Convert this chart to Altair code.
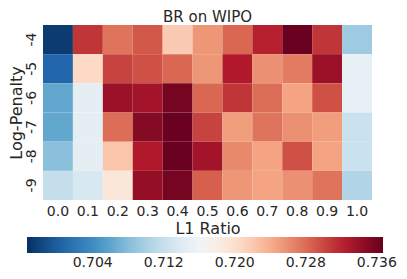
import altair as alt
import pandas as pd

title_text = "BR on WIPO"
l1_ratios = ["0.0", "0.1", "0.2", "0.3", "0.4", "0.5", "0.6", "0.7", "0.8", "0.9", "1.0"]
penalties = ["-4", "-5", "-6", "-7", "-8", "-9"]

row_m4 = [0.6974, 0.7311, 0.7275, 0.7291, 0.7219, 0.7255, 0.7283, 0.7323, 0.7365, 0.7311, 0.7094]
row_m5 = [0.7006, 0.7207, 0.7303, 0.7295, 0.7283, 0.7255, 0.7327, 0.7259, 0.7271, 0.7339, 0.7150]
row_m6 = [0.7062, 0.7146, 0.7339, 0.7335, 0.7359, 0.7283, 0.7311, 0.7279, 0.7247, 0.7295, 0.7150]
row_m7 = [0.7062, 0.7146, 0.7279, 0.7351, 0.7365, 0.7303, 0.7251, 0.7275, 0.7259, 0.7251, 0.7122]
row_m8 = [0.7082, 0.7146, 0.7223, 0.7327, 0.7365, 0.7335, 0.7263, 0.7247, 0.7295, 0.7247, 0.7122]
row_m9 = [0.7118, 0.7134, 0.7191, 0.7343, 0.7359, 0.7287, 0.7255, 0.7247, 0.7259, 0.7275, 0.7106]

rows = [row_m4, row_m5, row_m6, row_m7, row_m8, row_m9]
colorbar_ticks = [0.704, 0.712, 0.720, 0.728, 0.736]
vmin, vmax = 0.6966, 0.7367

# RdBu_r (ColorBrewer 11 stops, blue -> red)
rdbu_r = ["#053061", "#2166ac", "#4393c3", "#92c5de", "#d1e5f0", "#f7f7f7",
          "#fddbc7", "#f4a582", "#d6604d", "#b2182b", "#67001f"]
stops = [vmin + (vmax - vmin) * i / 10 for i in range(11)]

records = []
for p, vals in zip(penalties, rows):
    for r, v in zip(l1_ratios, vals):
        records.append({"penalty": p, "ratio": r, "value": v})
df = pd.DataFrame(records)

TXT = "#262626"
W, H = 329, 175

heat = alt.Chart(df).mark_rect().encode(
    x=alt.X("ratio:O", sort=l1_ratios, title="L1 Ratio",
            scale=alt.Scale(paddingInner=0, paddingOuter=0),
            axis=alt.Axis(labelAngle=0, labelFontSize=14, titleFontSize=16,
                          labelColor=TXT, titleColor=TXT, domain=False, ticks=False,
                          labelPadding=4, titlePadding=2, titleFontWeight="normal")),
    y=alt.Y("penalty:O", sort=penalties, title="Log-Penalty",
            scale=alt.Scale(paddingInner=0, paddingOuter=0),
            axis=alt.Axis(labelAngle=270, labelAlign="center", labelBaseline="bottom",
                          labelFontSize=14, titleFontSize=16,
                          labelColor=TXT, titleColor=TXT, domain=False, ticks=False,
                          labelPadding=5, titlePadding=0, titleFontWeight="normal")),
    color=alt.Color("value:Q",
                    scale=alt.Scale(domain=stops, range=rdbu_r, interpolate="rgb"),
                    legend=alt.Legend(orient="none", direction="horizontal", title=None,
                                      legendX=-16, legendY=212,
                                      gradientLength=356, gradientThickness=16,
                                      values=colorbar_ticks, format=".3f",
                                      labelFontSize=14, labelColor=TXT,
                                      labelOverlap=False, labelOffset=3,
                                      gradientStrokeWidth=0)),
)

title_mark = alt.Chart(pd.DataFrame({"t": [title_text]})).mark_text(
    fontSize=15, color=TXT, align="center", baseline="alphabetic"
).encode(
    text="t:N",
    x=alt.value(W / 2),
    y=alt.value(-3),
)

chart = alt.layer(heat, title_mark).properties(
    width=W, height=H,
    autosize=alt.AutoSizeParams(type="none"),
    padding={"left": 35, "top": 17, "right": 27, "bottom": 71},
).configure(font="DejaVu Sans").configure_view(stroke=None)

chart.save("out.html", embed_options={"renderer": "svg", "actions": False})
